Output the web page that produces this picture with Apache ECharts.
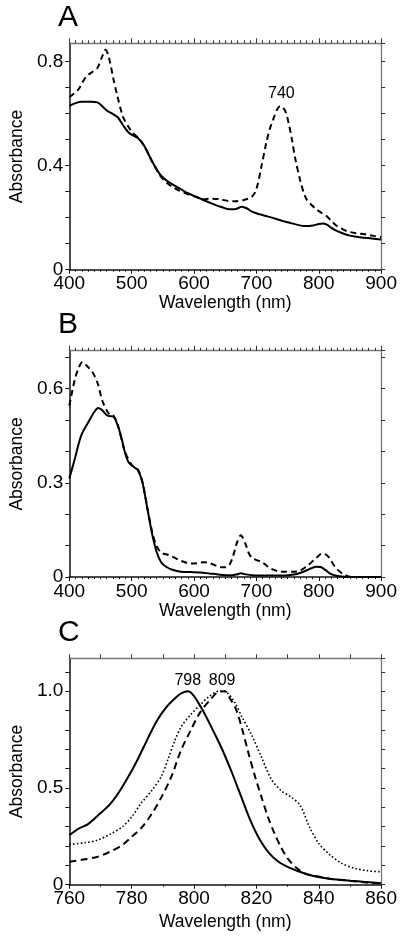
<!DOCTYPE html>
<html><head><meta charset="utf-8">
<script src="https://cdn.jsdelivr.net/npm/echarts@6/dist/echarts.min.js"></script>
<style>html,body{margin:0;padding:0;background:#fff}#c{width:400px;height:936px}</style>
</head><body><div id="c"></div>
<script>
// Panel A
const aSolidWl = [400,410,420,435,445,452,460,470,478,486,496,505,510,520,533,546,556,564,577,590,603,615,630,645,657,665,677,686,693,705,719,732,745,760,776,791,800,807,813,819,828,838,850,868,885,900];
const aSolid   = [0.630,0.640,0.645,0.645,0.643,0.630,0.612,0.598,0.585,0.556,0.525,0.512,0.506,0.476,0.415,0.364,0.343,0.330,0.312,0.294,0.281,0.268,0.253,0.240,0.232,0.232,0.242,0.234,0.223,0.213,0.204,0.195,0.185,0.176,0.168,0.170,0.176,0.178,0.173,0.163,0.150,0.140,0.131,0.124,0.120,0.116];
const aDashWl  = [400,414,420,427,437,445,452,458,463,471,476,486,495,502,510,520,533,546,556,564,577,590,603,615,625,641,655,665,680,693,700,708,716,722,727,733,738,742,747,752,757,762,770,776,781,788,796,805,812,820,827,838,848,860,874,888,900];
const aDash    = [0.663,0.691,0.715,0.742,0.760,0.775,0.815,0.845,0.820,0.730,0.678,0.588,0.548,0.525,0.508,0.476,0.415,0.360,0.335,0.320,0.303,0.290,0.280,0.271,0.273,0.271,0.264,0.263,0.268,0.281,0.310,0.396,0.490,0.545,0.578,0.615,0.628,0.625,0.605,0.560,0.500,0.430,0.345,0.295,0.268,0.250,0.232,0.218,0.207,0.188,0.172,0.156,0.146,0.140,0.136,0.130,0.125];
// Panel B
const bSolidWl = [400,409,419,432,440,446,452,460,465,471,478,484,489,495,500,505,510,517,525,533,540,548,556,564,579,595,610,626,645,660,668,675,682,693,720,745,760,770,780,788,796,803,811,819,828,840,860,900];
const bSolid   = [0.314,0.377,0.450,0.498,0.525,0.538,0.532,0.515,0.512,0.510,0.480,0.440,0.398,0.365,0.355,0.348,0.340,0.303,0.219,0.135,0.080,0.045,0.032,0.024,0.017,0.016,0.015,0.011,0.007,0.006,0.008,0.012,0.009,0.006,0.005,0.005,0.008,0.013,0.021,0.028,0.033,0.032,0.022,0.010,0.004,0.001,0,0];
const bDashWl  = [400,409,415,421,428,437,445,453,460,466,471,478,489,500,510,517,525,533,540,548,556,564,579,595,605,615,622,631,641,649,657,663,668,675,682,688,693,700,708,716,724,739,765,781,796,806,812,817,827,838,848,860,900];
const bDash    = [0.545,0.630,0.665,0.684,0.672,0.652,0.619,0.561,0.530,0.515,0.513,0.482,0.400,0.357,0.342,0.305,0.222,0.142,0.098,0.077,0.072,0.066,0.052,0.043,0.044,0.047,0.046,0.040,0.032,0.031,0.040,0.070,0.105,0.133,0.108,0.075,0.061,0.054,0.049,0.037,0.026,0.017,0.018,0.035,0.061,0.075,0.071,0.061,0.030,0.011,0.002,0,0];
// Panel C
const cSolidWl = [760,763,766,769,773,776,779,782,785,788,791,794,796,798,800,803,806,809,812,815,818,821,824,827,830,833,836,839,844,850,855,860];
const cSolid   = [0.256,0.290,0.313,0.355,0.415,0.480,0.560,0.650,0.750,0.845,0.915,0.965,0.990,1.000,0.975,0.895,0.800,0.700,0.585,0.460,0.335,0.235,0.165,0.120,0.092,0.072,0.055,0.042,0.030,0.021,0.014,0.007];
const cDotWl   = [760,765,769,773,777,780,783,786.5,789.5,791.7,793.7,796,799,802,805,808,810,813,815.4,818.5,821.6,824.7,827.8,831,834,837,840,843.3,847.4,851.5,855.7,860];
const cDot     = [0.208,0.217,0.230,0.260,0.299,0.350,0.420,0.488,0.560,0.650,0.740,0.820,0.880,0.930,0.975,1.000,0.998,0.943,0.866,0.772,0.660,0.548,0.488,0.454,0.411,0.299,0.213,0.158,0.110,0.085,0.072,0.067];
const cDashWl  = [760,765,769,773,777,780,783.4,786.5,789.6,792.7,795.8,798.9,802,805,808,810,811.3,813.4,815.4,817.5,819.6,821.6,823.7,825.8,827.8,830,833,836,839,844,849.5,854.6,860];
const cDash    = [0.119,0.131,0.144,0.170,0.205,0.247,0.299,0.368,0.454,0.557,0.694,0.797,0.892,0.952,0.998,1.000,0.969,0.909,0.806,0.677,0.557,0.454,0.350,0.265,0.196,0.136,0.085,0.055,0.045,0.030,0.021,0.012,0.006];
// Annotations
const aPeak = [[740, 0.628, '740']];
const cPeaks = [[798, 1.0, '798'], [809, 1.0, '809']];
// Axis settings
const panelLetters = ['A', 'B', 'C'];
const xRanges = [[400, 900, 100, 10], [400, 900, 100, 10], [760, 860, 20, 2]];
const yRanges = [[0, 0.87, 0.4, 1], [0, 0.72, 0.3, 1], [0, 1.17, 0.5, 1]];
const xNameGaps = [22, 22, 28];

const FONT = 'Liberation Sans, Arial, Helvetica, sans-serif';
const pairs = (xs, ys) => xs.map((x, i) => [x, ys[i]]);
const gridTops = [43.3, 350.7, 658.3];
const gridH = 226.4;

const grids = gridTops.map(t => ({left: 59.3, right: 17.8, top: t, height: gridH}));
const xAxes = [], yAxes = [];
xRanges.forEach((r, i) => {
  const [mn, mx, iv, sp] = r;
  xAxes.push({gridIndex: i, type: 'value', position: 'bottom', min: mn, max: mx, interval: iv,
    name: 'Wavelength (nm)', nameLocation: 'middle', nameGap: xNameGaps[i],
    nameTextStyle: {fontFamily: FONT, fontSize: 17.5, color: '#000'},
    axisLine: {show: true, onZero: false, lineStyle: {color: '#111', width: 1.5}},
    axisTick: {show: true, inside: false, length: 4, lineStyle: {color: '#111', width: 1}},
    minorTick: {show: true, splitNumber: sp, length: 2, lineStyle: {color: '#111', width: 1}},
    axisLabel: {fontFamily: FONT, fontSize: 19, color: '#000', margin: 5},
    splitLine: {show: false}});
  xAxes.push({gridIndex: i, type: 'value', position: 'top', min: mn, max: mx, interval: i === 2 ? 10 : iv,
    axisLine: {show: true, onZero: false, lineStyle: {color: '#777', width: 1.3}},
    axisTick: {show: true, inside: false, length: i === 2 ? 4 : 5, lineStyle: {color: '#333', width: 1}},
    minorTick: {show: i !== 2, splitNumber: sp, length: 3, lineStyle: {color: '#333', width: 1}},
    axisLabel: {show: false}, splitLine: {show: false}});
});
yRanges.forEach((r, i) => {
  const [mn, mx, step, dec] = r;
  const fmt = v => {
    const k = v / step;
    if (Math.abs(k - Math.round(k)) > 1e-6) return '';
    return Math.abs(v) < 1e-9 ? '0' : v.toFixed(dec);
  };
  yAxes.push({gridIndex: i, type: 'value', position: 'left', min: mn, max: mx, interval: 0.1,
    name: 'Absorbance', nameLocation: 'middle', nameGap: 38,
    nameTextStyle: {fontFamily: FONT, fontSize: 17.5, color: '#000'},
    axisLine: {show: true, onZero: false, lineStyle: {color: '#111', width: 1.5}},
    axisTick: {show: true, inside: false, length: 4, lineStyle: {color: '#111', width: 1}},
    axisLabel: {fontFamily: FONT, fontSize: 19, color: '#000', margin: 6, formatter: fmt, showMaxLabel: false},
    splitLine: {show: false}});
  yAxes.push({gridIndex: i, type: 'value', position: 'right', min: mn, max: mx, interval: 0.1,
    axisLine: {show: true, onZero: false, lineStyle: {color: '#777', width: 1.3}},
    axisTick: {show: true, inside: false, length: 4, lineStyle: {color: '#333', width: 1}},
    axisLabel: {show: false}, splitLine: {show: false}});
});

const lineS = (xi, yi, data, type, width, dash) => ({
  type: 'line', xAxisIndex: xi, yAxisIndex: yi, data: data, showSymbol: false, smooth: 0.3,
  silent: true, animation: false, z: 3,
  lineStyle: {color: '#000', width: width, type: dash || type}
});
const mark = (list, dist) => ({
  symbol: 'circle', symbolSize: 0, silent: true, animation: false,
  label: {show: true, position: 'top', distance: dist, fontFamily: FONT, fontSize: 16, color: '#000',
    formatter: p => p.data.name},
  data: list.map(p => ({coord: [p[0], p[1]], name: p[2]}))
});

const sA1 = lineS(0, 0, pairs(aSolidWl, aSolid), 'solid', 2);
const sA2 = lineS(0, 0, pairs(aDashWl, aDash), 'dashed', 2, [6, 4]);
sA2.markPoint = mark(aPeak, 5);
const sB1 = lineS(2, 2, pairs(bSolidWl, bSolid), 'solid', 2);
const sB2 = lineS(2, 2, pairs(bDashWl, bDash), 'dashed', 2, [6, 4]);
const sC1 = lineS(4, 4, pairs(cSolidWl, cSolid), 'solid', 2);
const sC2 = lineS(4, 4, pairs(cDotWl, cDot), 'dotted', 1.6, [1.6, 2.2]);
const sC3 = lineS(4, 4, pairs(cDashWl, cDash), 'dashed', 2, [7, 4.5]);
sC1.markPoint = mark(cPeaks, 3);

const chart = echarts.init(document.getElementById('c'), null, {renderer: 'canvas'});
chart.setOption({
  animation: false,
  backgroundColor: '#fff',
  textStyle: {fontFamily: FONT},
  title: panelLetters.map((t, i) => ({text: t, left: 58, top: gridTops[i] - 41, padding: 0,
    textStyle: {fontFamily: FONT, fontSize: 30, fontWeight: 'normal', color: '#000'}})),
  grid: grids,
  xAxis: xAxes,
  yAxis: yAxes,
  series: [sA1, sA2, sB1, sB2, sC1, sC2, sC3]
});
</script></body></html>
